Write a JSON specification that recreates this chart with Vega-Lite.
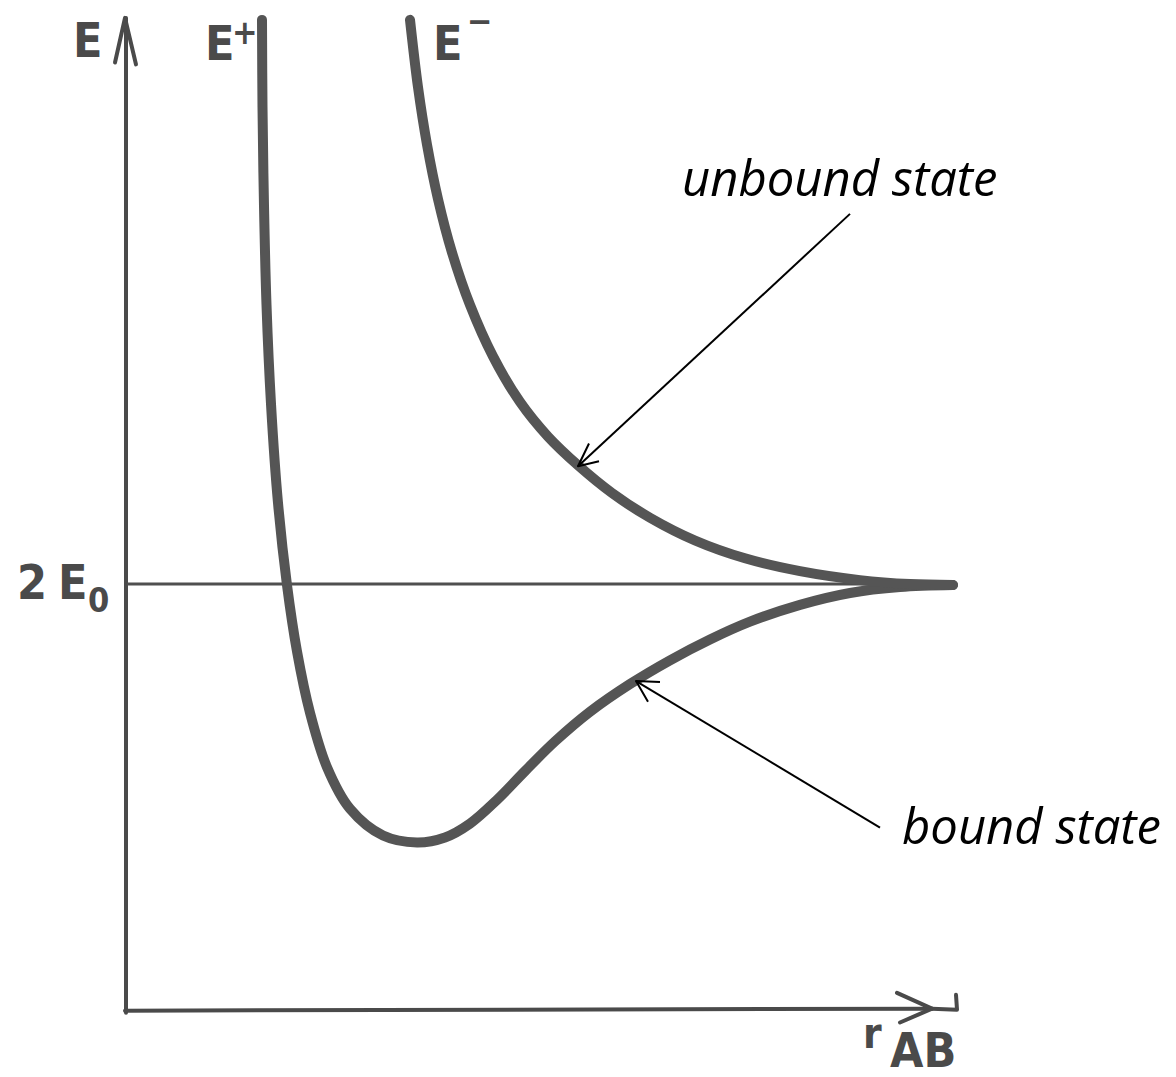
{
  "$schema": "https://vega.github.io/schema/vega-lite/v6.json",
  "width": 1176,
  "height": 1077,
  "autosize": {"type": "fit", "contains": "padding"},
  "padding": 0,
  "background": "white",
  "config": {"view": {"stroke": null}},
  "datasets": {
    "strokes": [
      {"part": "axis-y", "seq": 1, "r": 0.01, "E": 0.0},
      {"part": "axis-y", "seq": 2, "r": 0.01, "E": 10.05},
      {"part": "head-y", "seq": 1, "r": -0.1, "E": 9.6},
      {"part": "head-y", "seq": 2, "r": 0.0, "E": 10.05},
      {"part": "head-y", "seq": 3, "r": 0.11, "E": 9.58},
      {"part": "axis-x", "seq": 1, "r": 0.0, "E": 0.02},
      {"part": "axis-x", "seq": 2, "r": 8.07, "E": 0.04},
      {"part": "head-x", "seq": 1, "r": 7.72, "E": 0.2},
      {"part": "head-x", "seq": 2, "r": 8.07, "E": 0.04},
      {"part": "head-x", "seq": 3, "r": 7.75, "E": -0.1},
      {"part": "hook-x", "seq": 1, "r": 8.07, "E": 0.04},
      {"part": "hook-x", "seq": 2, "r": 8.32, "E": 0.03},
      {"part": "hook-x", "seq": 3, "r": 8.31, "E": 0.18},
      {"part": "level", "seq": 1, "r": 0.02, "E": 4.33},
      {"part": "level", "seq": 2, "r": 8.28, "E": 4.33},

      {"part": "E+", "seq": 1, "r": 1.37, "E": 10.03},
      {"part": "E+", "seq": 2, "r": 1.375, "E": 9.15},
      {"part": "E+", "seq": 3, "r": 1.39, "E": 8.15},
      {"part": "E+", "seq": 4, "r": 1.415, "E": 7.15},
      {"part": "E+", "seq": 5, "r": 1.46, "E": 6.15},
      {"part": "E+", "seq": 6, "r": 1.53, "E": 5.15},
      {"part": "E+", "seq": 7, "r": 1.62, "E": 4.32},
      {"part": "E+", "seq": 8, "r": 1.72, "E": 3.65},
      {"part": "E+", "seq": 9, "r": 1.85, "E": 3.03},
      {"part": "E+", "seq": 10, "r": 2.02, "E": 2.48},
      {"part": "E+", "seq": 11, "r": 2.25, "E": 2.06},
      {"part": "E+", "seq": 12, "r": 2.58, "E": 1.79},
      {"part": "E+", "seq": 13, "r": 2.92, "E": 1.72},
      {"part": "E+", "seq": 14, "r": 3.2, "E": 1.77},
      {"part": "E+", "seq": 15, "r": 3.45, "E": 1.91},
      {"part": "E+", "seq": 16, "r": 3.72, "E": 2.15},
      {"part": "E+", "seq": 17, "r": 4.0, "E": 2.44},
      {"part": "E+", "seq": 18, "r": 4.3, "E": 2.74},
      {"part": "E+", "seq": 19, "r": 4.65, "E": 3.04},
      {"part": "E+", "seq": 20, "r": 5.05, "E": 3.32},
      {"part": "E+", "seq": 21, "r": 5.45, "E": 3.56},
      {"part": "E+", "seq": 22, "r": 5.85, "E": 3.77},
      {"part": "E+", "seq": 23, "r": 6.25, "E": 3.95},
      {"part": "E+", "seq": 24, "r": 6.75, "E": 4.12},
      {"part": "E+", "seq": 25, "r": 7.25, "E": 4.24},
      {"part": "E+", "seq": 26, "r": 7.75, "E": 4.3},
      {"part": "E+", "seq": 27, "r": 8.28, "E": 4.32},

      {"part": "E-", "seq": 1, "r": 2.85, "E": 10.03},
      {"part": "E-", "seq": 2, "r": 2.93, "E": 9.35},
      {"part": "E-", "seq": 3, "r": 3.02, "E": 8.77},
      {"part": "E-", "seq": 4, "r": 3.13, "E": 8.22},
      {"part": "E-", "seq": 5, "r": 3.27, "E": 7.68},
      {"part": "E-", "seq": 6, "r": 3.45, "E": 7.15},
      {"part": "E-", "seq": 7, "r": 3.68, "E": 6.63},
      {"part": "E-", "seq": 8, "r": 3.95, "E": 6.17},
      {"part": "E-", "seq": 9, "r": 4.23, "E": 5.82},
      {"part": "E-", "seq": 10, "r": 4.53, "E": 5.53},
      {"part": "E-", "seq": 11, "r": 4.87, "E": 5.25},
      {"part": "E-", "seq": 12, "r": 5.25, "E": 5.0},
      {"part": "E-", "seq": 13, "r": 5.7, "E": 4.77},
      {"part": "E-", "seq": 14, "r": 6.2, "E": 4.59},
      {"part": "E-", "seq": 15, "r": 6.75, "E": 4.46},
      {"part": "E-", "seq": 16, "r": 7.35, "E": 4.37},
      {"part": "E-", "seq": 17, "r": 7.85, "E": 4.33},
      {"part": "E-", "seq": 18, "r": 8.28, "E": 4.32},

      {"part": "ptr-unbound", "seq": 1, "r": 7.25, "E": 8.07},
      {"part": "ptr-unbound", "seq": 2, "r": 4.53, "E": 5.52},
      {"part": "tip-unbound", "seq": 1, "r": 4.74, "E": 5.57},
      {"part": "tip-unbound", "seq": 2, "r": 4.53, "E": 5.52},
      {"part": "tip-unbound", "seq": 3, "r": 4.64, "E": 5.75},
      {"part": "ptr-bound", "seq": 1, "r": 7.55, "E": 1.87},
      {"part": "ptr-bound", "seq": 2, "r": 5.11, "E": 3.35},
      {"part": "tip-bound", "seq": 1, "r": 5.35, "E": 3.34},
      {"part": "tip-bound", "seq": 2, "r": 5.11, "E": 3.35},
      {"part": "tip-bound", "seq": 3, "r": 5.23, "E": 3.14}
    ],
    "lettering": [
      {"text": "E", "r": -0.52, "E": 9.65},
      {"text": "E", "r": 0.8, "E": 9.62},
      {"text": "E", "r": 3.08, "E": 9.62},
      {"text": "2", "r": -1.08, "E": 4.18},
      {"text": "E", "r": -0.67, "E": 4.18},
      {"text": "AB", "r": 7.65, "E": -0.55}
    ],
    "marks": [
      {"text": "+", "r": 1.07, "E": 9.79},
      {"text": "−", "r": 3.42, "E": 9.9},
      {"text": "0", "r": -0.37, "E": 4.05}
    ],
    "axisname": [
      {"text": "r", "r": 7.38, "E": -0.36}
    ],
    "notes": [
      {"text": "unbound state", "r": 5.57, "E": 8.25},
      {"text": "bound state", "r": 7.77, "E": 1.7}
    ]
  },
  "encoding": {
    "x": {"field": "r", "type": "quantitative", "axis": null,
          "scale": {"domain": [-1.25, 10.51], "nice": false, "zero": false}},
    "y": {"field": "E", "type": "quantitative", "axis": null,
          "scale": {"domain": [-0.62, 10.15], "nice": false, "zero": false}}
  },
  "layer": [
    {
      "data": {"name": "strokes"},
      "transform": [{"filter": {"field": "part", "oneOf": ["axis-y", "axis-x", "head-y", "head-x", "hook-x"]}}],
      "mark": {"type": "line", "color": "#4a4a4a", "strokeWidth": 4, "strokeCap": "round", "strokeJoin": "round"},
      "encoding": {"detail": {"field": "part"}, "order": {"field": "seq", "type": "quantitative"}}
    },
    {
      "data": {"name": "strokes"},
      "transform": [{"filter": {"field": "part", "equal": "level"}}],
      "mark": {"type": "line", "color": "#4f4f4f", "strokeWidth": 3},
      "encoding": {"order": {"field": "seq", "type": "quantitative"}}
    },
    {
      "data": {"name": "strokes"},
      "transform": [{"filter": {"field": "part", "oneOf": ["E+", "E-"]}}],
      "mark": {"type": "line", "color": "#555555", "strokeWidth": 10, "strokeCap": "round", "interpolate": "catmull-rom"},
      "encoding": {"detail": {"field": "part"}, "order": {"field": "seq", "type": "quantitative"}}
    },
    {
      "data": {"name": "strokes"},
      "transform": [{"filter": {"field": "part", "oneOf": ["ptr-unbound", "tip-unbound", "ptr-bound", "tip-bound"]}}],
      "mark": {"type": "line", "color": "black", "strokeWidth": 2, "strokeJoin": "round"},
      "encoding": {"detail": {"field": "part"}, "order": {"field": "seq", "type": "quantitative"}}
    },
    {
      "data": {"name": "lettering"},
      "mark": {"type": "text", "font": "DejaVu Sans Condensed", "fontWeight": "bold", "fontSize": 48,
               "color": "#4a4a4a", "align": "left", "baseline": "alphabetic"},
      "encoding": {"text": {"field": "text"}}
    },
    {
      "data": {"name": "marks"},
      "mark": {"type": "text", "font": "DejaVu Sans Condensed", "fontWeight": "bold", "fontSize": 34,
               "color": "#4a4a4a", "align": "left", "baseline": "alphabetic"},
      "encoding": {"text": {"field": "text"}}
    },
    {
      "data": {"name": "axisname"},
      "mark": {"type": "text", "font": "DejaVu Sans Condensed", "fontWeight": "bold", "fontSize": 42,
               "color": "#4a4a4a", "align": "left", "baseline": "alphabetic"},
      "encoding": {"text": {"field": "text"}}
    },
    {
      "data": {"name": "notes"},
      "mark": {"type": "text", "font": "Open Sans", "fontStyle": "italic", "fontSize": 49,
               "color": "black", "align": "left", "baseline": "alphabetic"},
      "encoding": {"text": {"field": "text"}}
    }
  ]
}
